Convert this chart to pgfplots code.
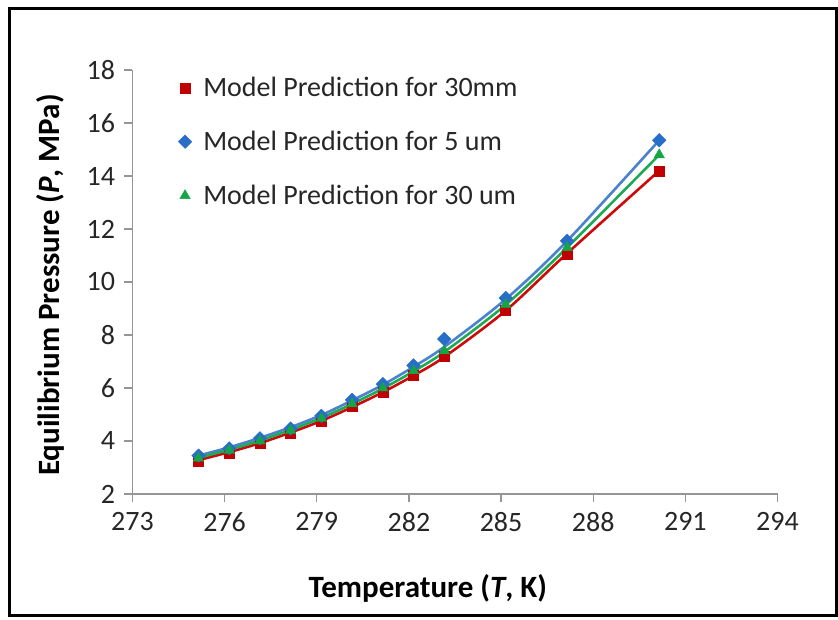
\documentclass[border=0pt]{standalone}
\usepackage{pgfplots}
\pgfplotsset{compat=1.18}
\usepackage{fontspec}
\setmainfont{Carlito}
\definecolor{mred}{RGB}{192,0,0}
\definecolor{mblue}{RGB}{40,110,200}
\definecolor{mgreen}{RGB}{20,165,70}
\definecolor{lred}{RGB}{205,10,10}
\definecolor{lblue}{RGB}{75,130,205}
\definecolor{lgreen}{RGB}{30,170,85}
\definecolor{axgray}{RGB}{150,150,150}
\begin{document}
\begin{tikzpicture}[x=1pt,y=1pt]
\useasboundingbox (-132.5,-125) rectangle (705.5,494);
\draw[line width=3pt,black] (-122.5,-121) rectangle (703.5,485);
\begin{axis}[
  at={(0,0)}, anchor=south west,
  scale only axis, width=645pt, height=424pt,
  xmin=273, xmax=294, ymin=2, ymax=18,
  xtick={273,276,...,294}, ytick={2,4,...,18},
  axis lines*=left, axis line style={axgray, line width=1.5pt, -},
  tick style={axgray, line width=1.2pt}, tick align=outside, major tick length=8pt,
  /pgf/number format/assume math mode=true,
  /pgf/number format/1000 sep={},
  ticklabel style={font=\fontsize{28}{32}\selectfont, text=black!85},
  xticklabel style={yshift=-7pt},
  yticklabel style={xshift=-6pt},
  xlabel={Temperature (\textit{T}, K)},
  ylabel={Equilibrium Pressure (\textit{P}, MPa)},
  xlabel style={font=\bfseries\fontsize{31}{36}\selectfont, at={(axis description cs:0.458,-0.222)}, anchor=center},
  ylabel style={font=\bfseries\fontsize{31}{36}\selectfont, at={(axis description cs:-0.128,0.493)}, anchor=center, rotate=0},
  legend style={draw=none, fill=none, at={(axis description cs:0.066,0.988)}, anchor=north west,
    font=\fontsize{28}{32}\selectfont, row sep=33pt, text=black!85,
    nodes={inner sep=0pt}},
  legend cell align=left,
  legend image code/.code={\draw plot coordinates {(0pt,0pt)}; \path (-6pt,0pt) (18pt,0pt);},
  clip=false,
]
% markers
\addplot[only marks, mark=square*, mark size=5pt, color=mred] coordinates {
(275.15,3.25) (276.15,3.55) (277.15,3.9) (278.15,4.3) (279.15,4.75) (280.15,5.3)
(281.15,5.85) (282.15,6.5) (283.15,7.2) (285.15,8.95) (287.15,11.05) (290.15,14.2)};
\addlegendentry{Model Prediction for 30mm}
\addplot[only marks, mark=square*, mark size=4.8pt, mark options={rotate=45}, color=mblue] coordinates {
(275.15,3.45) (276.15,3.72) (277.15,4.1) (278.15,4.47) (279.15,4.95) (280.15,5.55)
(281.15,6.15) (282.15,6.85) (283.15,7.85) (285.15,9.4) (287.15,11.55) (290.15,15.35)};
\addlegendentry{Model Prediction for 5 um}
\addplot[only marks, mark=triangle*, mark size=6pt, color=mgreen] coordinates {
(275.15,3.35) (276.15,3.65) (277.15,4.0) (278.15,4.4) (279.15,4.85) (280.15,5.4)
(281.15,6.0) (282.15,6.65) (283.15,7.4) (285.15,9.15) (287.15,11.3) (290.15,14.8)};
\addlegendentry{Model Prediction for 30 um}
% trend lines
\addplot[forget plot, smooth, color=lred, line width=2.6pt] coordinates {
(275.15,3.28) (276.15,3.58) (277.15,3.92) (278.15,4.32) (279.15,4.76) (280.15,5.28)
(281.15,5.84) (282.15,6.47) (283.15,7.17) (285.15,8.92) (287.15,11.08) (290.15,14.2)};
\addplot[forget plot, smooth, color=lblue, line width=2.6pt] coordinates {
(275.15,3.45) (276.15,3.76) (277.15,4.12) (278.15,4.52) (279.15,4.98) (280.15,5.53)
(281.15,6.12) (282.15,6.80) (283.15,7.55) (285.15,9.35) (287.15,11.55) (290.15,15.35)};
\addplot[forget plot, smooth, color=lgreen, line width=2.6pt] coordinates {
(275.15,3.37) (276.15,3.67) (277.15,4.02) (278.15,4.42) (279.15,4.87) (280.15,5.40)
(281.15,5.98) (282.15,6.63) (283.15,7.36) (285.15,9.14) (287.15,11.30) (290.15,14.8)};
\end{axis}
\end{tikzpicture}
\end{document}
